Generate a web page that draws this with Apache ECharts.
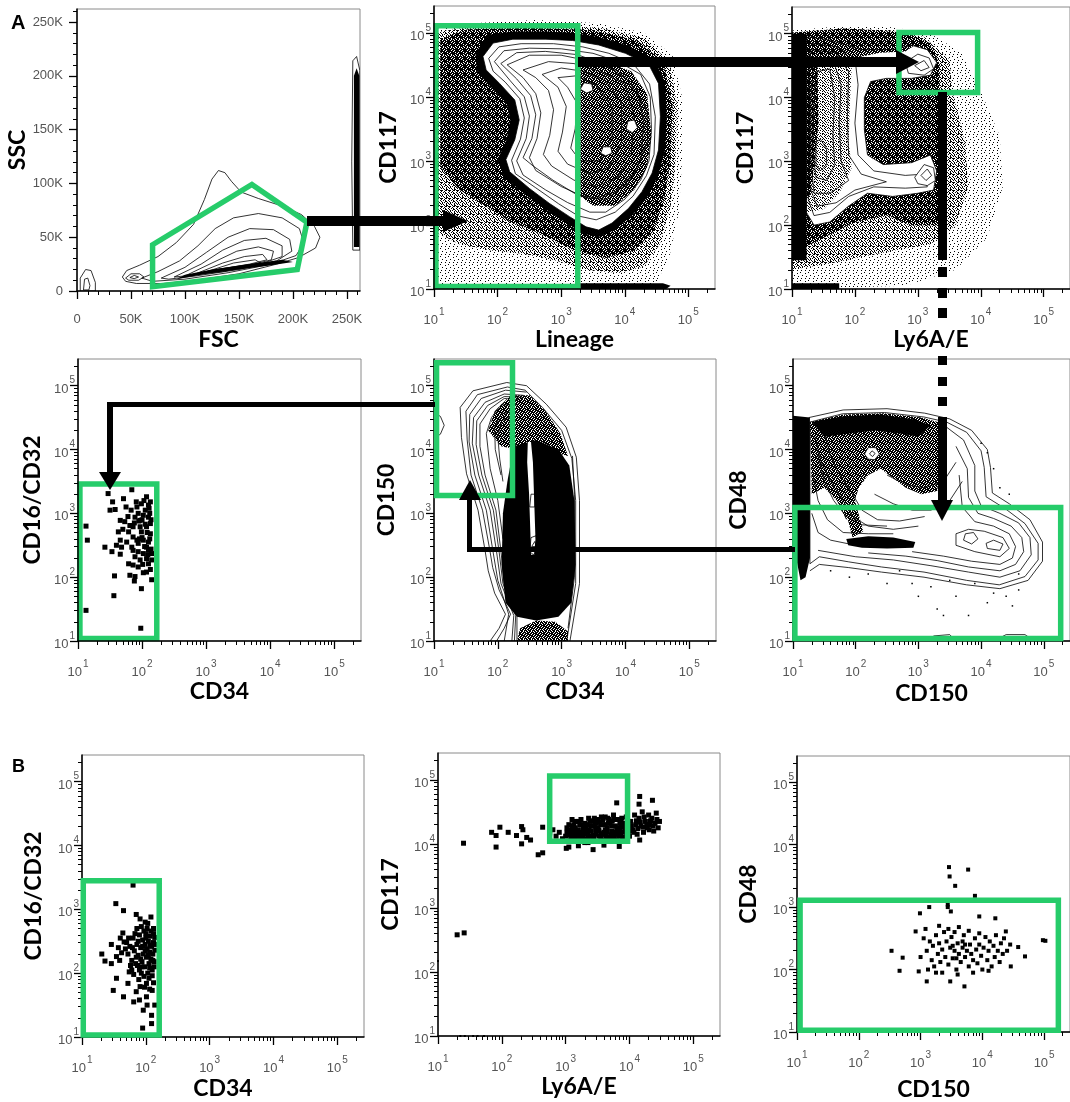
<!DOCTYPE html>
<html><head><meta charset="utf-8">
<script src="https://cdn.jsdelivr.net/npm/echarts@6/dist/echarts.min.js"></script>
<style>html,body{margin:0;padding:0;background:#fff}#c{width:1070px;height:1102px}</style>
</head><body><div id="c"></div>
<script>
// ================= DATA =================
const LIN_TICKS = [0, 50, 100, 150, 200, 250];               // FSC / SSC in thousands
const LIN_TICK_LABELS = ['0', '50K', '100K', '150K', '200K', '250K'];
const LOG_TICKS = [1, 2, 3, 4, 5];                           // exponents, labelled 10^n
const X_TITLES = ['FSC', 'Lineage', 'Ly6A/E', 'CD34', 'CD34', 'CD150', 'CD34', 'Ly6A/E', 'CD150'];
const Y_TITLES = ['SSC', 'CD117', 'CD117', 'CD16/CD32', 'CD150', 'CD48', 'CD16/CD32', 'CD117', 'CD48'];
const PANEL_LETTERS = ['A', 'B'];

// ---- Panel 1 (FSC x SSC, thousands) ----
const p1Contours = [
  [[42,13],[46,19],[58,24],[75,32],[92,45],[108,62],[118,85],[125,104],[131,112],[137,110],[143,102],[152,92],[168,86],[190,79],[208,71],[220,60],[225,50],[221,40],[205,31],[185,25],[150,16],[110,10],[80,7],[55,7],[45,9]],
  [[60,12],[75,18],[95,28],[112,42],[128,58],[145,68],[168,72],[190,68],[206,58],[210,45],[203,33],[180,25],[140,17],[100,11],[70,9]],
  [[78,12],[100,22],[120,36],[140,50],[160,58],[182,57],[197,48],[199,37],[185,28],[150,20],[110,14],[85,11]],
  [[90,13],[115,25],[135,38],[155,47],[175,49],[190,42],[190,32],[170,25],[135,18],[100,14]],
  [[100,14],[125,26],[148,37],[168,41],[182,37],[180,29],[160,24],[125,18]],
  [[110,16],[135,26],[155,32],[172,34],[176,29],[160,25],[130,20]],
  [[120,18],[145,26],[165,29],[170,26],[150,23],[130,20]],
  [[45,12],[50,16],[58,16],[62,13],[57,10],[48,10]],
  [[49,12.5],[53,14.5],[57,13],[53,11.5]],
  [[3,0],[3,12],[8,20],[13,19],[17,8],[17,0]],
  [[6,1],[7,11],[10,12],[12,5],[11,1]],
  [[255.5,38],[254.5,120],[255.5,214],[259,218],[262,205],[262,38]]
];
const p1Black = [
  [[92,11],[120,16],[150,20],[180,24],[200,27],[190,29],[160,25],[125,20],[100,15]],
  [[256.5,41],[256.5,200],[259,207],[261.5,200],[261.5,41]]
];
const p1Gate = [[70,43],[162,99],[213,64],[204,20],[70,4]];

// ---- Panel 2 (Lineage x CD117, log10 units) ----
const p2Sparse = [[[1,1.05],[1,5.05],[1.6,5.15],[2.6,5.2],[3.6,5.15],[4.3,5.0],[4.75,4.65],[4.9,4.0],[4.9,3.0],[4.85,2.2],[4.7,1.5],[4.5,1.1],[4.2,1.0],[3.0,1.0],[2.0,1.05]]];
const p2Medium = [[[1,1.9],[1,5.0],[1.6,5.1],[2.6,5.12],[3.6,5.08],[4.3,4.92],[4.7,4.55],[4.82,3.9],[4.8,3.0],[4.72,2.3],[4.55,1.7],[4.3,1.35],[3.9,1.25],[3.4,1.3],[2.9,1.45],[2.4,1.55],[1.9,1.6],[1.4,1.7]]];
const p2Dense = [[[1.1,2.9],[1.1,4.9],[1.5,5.05],[2.5,5.08],[3.5,5.04],[4.2,4.88],[4.6,4.55],[4.75,3.9],[4.72,3.0],[4.62,2.4],[4.45,1.9],[4.15,1.6],[3.7,1.48],[3.2,1.6],[2.7,1.85],[2.2,2.05],[1.8,2.3],[1.4,2.55]]];
const p2Black = [
  [[1.65,4.68],[1.85,4.97],[2.24,5.02],[2.76,5.02],[3.18,5.0],[3.6,4.93],[4.05,4.8],[4.47,4.58],[4.63,4.23],[4.66,3.69],[4.63,3.15],[4.52,2.76],[4.35,2.43],[4.12,2.15],[3.84,1.92],[3.59,1.81],[3.36,1.86],[3.08,2.03],[2.76,2.24],[2.44,2.47],[2.1,2.75],[2.0,3.02],[2.14,3.33],[2.2,3.64],[2.14,3.9],[1.91,4.14],[1.68,4.38]],
  [[3.3,1.0],[4.65,1.0],[4.72,1.05],[4.6,1.09],[3.3,1.09]]
];
const p2Outer = [[[1.77,4.63],[1.93,4.84],[2.24,4.90],[2.76,4.90],[3.18,4.88],[3.59,4.81],[4.01,4.68],[4.38,4.50],[4.53,4.21],[4.56,3.69],[4.53,3.17],[4.43,2.81],[4.27,2.52],[4.06,2.26],[3.80,2.03],[3.59,1.92],[3.39,1.97],[3.13,2.13],[2.81,2.34],[2.50,2.57],[2.19,2.83],[2.13,3.02],[2.27,3.33],[2.34,3.64],[2.27,3.95],[2.03,4.21],[1.82,4.42]]];
const p2DarkCore = [[[3.3,4.5],[3.7,4.55],[4.1,4.4],[4.35,4.05],[4.42,3.4],[4.35,2.9],[4.15,2.55],[3.85,2.3],[3.5,2.3],[3.3,2.45]]];
const p2Contours = [
  [[1.86,4.6],[2.02,4.78],[2.37,4.83],[2.88,4.83],[3.34,4.78],[3.75,4.68],[4.13,4.52],[4.39,4.2],[4.48,3.69],[4.46,3.1],[4.34,2.77],[4.13,2.45],[3.85,2.2],[3.55,2.08],[3.27,2.14],[2.96,2.33],[2.6,2.58],[2.28,2.8],[2.22,3.01],[2.36,3.34],[2.42,3.67],[2.35,3.97],[2.12,4.23],[1.93,4.4]],
  [[1.95,4.55],[2.1,4.72],[2.5,4.76],[3.0,4.75],[3.5,4.68],[3.9,4.55],[4.25,4.35],[4.4,4.0],[4.42,3.5],[4.38,3.0],[4.25,2.7],[4.0,2.4],[3.7,2.2],[3.45,2.2],[3.1,2.35],[2.75,2.55],[2.4,2.78],[2.3,3.0],[2.45,3.35],[2.5,3.7],[2.42,4.0],[2.2,4.25]],
  [[2.05,4.52],[2.3,4.69],[2.75,4.71],[3.25,4.66],[3.7,4.5],[4.05,4.26],[4.35,3.8],[4.36,3.3],[4.15,2.82],[3.85,2.52],[3.55,2.42],[3.25,2.47],[2.87,2.7],[2.56,2.92],[2.4,3.05],[2.54,3.35],[2.6,3.72],[2.52,4.02],[2.3,4.28]],
  [[2.15,4.5],[2.5,4.65],[3.0,4.65],[3.5,4.55],[3.9,4.4],[4.2,4.1],[4.3,3.6],[4.25,3.0],[4.05,2.65],[3.7,2.4],[3.4,2.42],[3.0,2.6],[2.6,2.85],[2.5,3.05],[2.62,3.35],[2.68,3.75],[2.6,4.05],[2.4,4.3]],
  [[2.4,4.42],[2.8,4.55],[3.2,4.52],[3.6,4.4],[4.0,4.2],[4.15,3.7],[4.1,3.1],[3.9,2.75],[3.55,2.6],[3.2,2.7],[2.85,2.92],[2.72,3.1],[2.82,3.4],[2.88,3.8],[2.8,4.1],[2.6,4.3]],
  [[2.7,4.35],[3.0,4.45],[3.35,4.4],[3.7,4.25],[3.95,3.9],[3.95,3.3],[3.75,2.9],[3.45,2.8],[3.1,2.95],[2.95,3.15],[3.02,3.45],[3.08,3.85],[2.95,4.15]],
  [[2.95,4.3],[3.25,4.33],[3.55,4.18],[3.8,3.85],[3.8,3.35],[3.6,3.0],[3.3,3.0],[3.15,3.2],[3.22,3.5],[3.25,3.9],[3.1,4.15]]
];
const p2Spots = [
  [[3.3,4.12],[3.36,4.22],[3.48,4.2],[3.5,4.1],[3.4,4.06]],
  [[4.02,3.5],[4.05,3.62],[4.15,3.64],[4.2,3.52],[4.12,3.44]],
  [[3.62,3.12],[3.66,3.22],[3.78,3.22],[3.8,3.12],[3.7,3.08]]
];
const p2Gate = [[1.03,1.04],[1.03,5.11],[3.26,5.11],[3.26,1.04]];

// ---- Panel 3 (Ly6A/E x CD117) ----
const p3Sparse = [[[1,1.0],[1,5.05],[1.8,5.12],[2.6,5.1],[3.2,5.0],[3.7,4.7],[4.0,4.1],[4.3,3.4],[4.35,2.6],[4.1,1.8],[3.6,1.3],[2.8,1.05]]];
const p3Medium = [[[1,1.3],[1,5.0],[1.8,5.08],[2.6,5.05],[3.1,4.95],[3.5,4.6],[3.55,4.1],[3.75,3.3],[3.8,2.6],[3.6,2.0],[3.2,1.7],[2.6,1.6],[2.1,1.5],[1.6,1.4]]];
const p3Dense = [[[1,1.6],[1,5.0],[2.0,5.07],[2.8,5.02],[3.2,4.85],[3.35,4.5],[3.35,3.9],[3.4,3.0],[3.45,2.4],[3.3,2.0],[2.9,2.0],[2.5,2.15],[2.0,2.05],[1.6,1.85],[1.3,1.7]]];
const p3Outer = [[[1.25,4.95],[1.6,4.9],[2.1,4.75],[2.6,4.75],[2.9,4.82],[3.15,4.75],[3.3,4.55],[3.2,4.35],[2.9,4.3],[2.5,4.3],[2.25,4.25],[2.15,4.0],[2.15,3.5],[2.2,3.1],[2.45,2.95],[2.9,2.98],[3.2,3.1],[3.3,2.85],[3.25,2.55],[3.0,2.5],[2.6,2.45],[2.2,2.5],[1.9,2.3],[1.6,2.05],[1.35,2.0],[1.23,2.2],[1.23,4.9]]];
const p3LeftDark = [[[1.23,2.2],[1.23,4.9],[1.5,4.88],[1.8,4.75],[1.95,4.5],[1.92,3.9],[1.9,3.3],[1.95,2.9],[1.75,2.5],[1.5,2.25]]];
const p3LeftCore = [[[1.23,2.4],[1.23,4.85],[1.4,4.82],[1.42,3.6],[1.36,3.0],[1.3,2.5]]];
const p3Top = [[[1,4.5],[1,5.02],[1.8,5.08],[2.4,5.05],[2.8,4.95],[3.0,4.85],[2.8,4.72],[2.4,4.7],[2.0,4.62],[1.6,4.55]]];
const p3Black = [
  [[1,1.45],[1,5.0],[1.23,5.0],[1.23,1.45]],
  [[1,1.0],[1.75,1.0],[1.75,1.09],[1,1.09]]
];
const p3Contours = [
  [[1.28,4.85],[1.7,4.8],[2.0,4.62],[2.05,4.2],[2.0,3.6],[2.05,3.1],[2.3,2.85],[2.8,2.78],[3.1,2.8],[3.15,2.6],[2.8,2.58],[2.3,2.6],[1.9,2.45],[1.6,2.2],[1.35,2.15],[1.26,2.4],[1.26,4.5]],
  [[1.3,4.75],[1.7,4.7],[1.9,4.4],[1.88,3.7],[1.9,3.1],[2.1,2.8],[2.5,2.68],[2.0,2.55],[1.7,2.35],[1.4,2.3],[1.28,2.6],[1.28,4.4]],
  [[1.35,4.6],[1.65,4.6],[1.78,4.2],[1.75,3.6],[1.78,3.0],[1.9,2.7],[1.6,2.5],[1.35,2.5],[1.3,3.0],[1.3,4.0]],
  [[1.38,4.4],[1.6,4.45],[1.68,4.0],[1.65,3.4],[1.68,2.95],[1.55,2.7],[1.38,2.75],[1.33,3.2],[1.35,3.9]],
  [[1.38,3.3],[1.45,3.35],[1.55,3.2],[1.55,2.95],[1.45,2.85],[1.38,2.95]]
];
const p3Loops = [
  [[2.8,4.55],[3.0,4.68],[3.18,4.62],[3.25,4.45],[3.1,4.35],[2.85,4.38]],
  [[2.95,4.5],[3.1,4.58],[3.18,4.47],[3.05,4.42]],
  [[2.95,2.75],[3.1,2.95],[3.25,2.9],[3.28,2.7],[3.15,2.62],[3.0,2.65]],
  [[3.05,2.78],[3.15,2.88],[3.22,2.78],[3.13,2.7]]
];
const p3Gate = [[2.70,4.08],[2.70,5.02],[3.95,5.02],[3.95,4.08]];

// ---- Panel 4 (CD34 x CD16/CD32) events ----
const p4Events = [[1.125,2.80],[1.146,2.58],[1.125,1.48],[1.47,3.31],[1.54,3.18],[1.50,3.05],[1.58,3.06],[1.71,3.23],[1.84,3.37],[1.75,3.10],[1.91,3.18],[1.99,3.15],[2.07,3.26],[2.10,3.13],[1.66,2.89],[1.73,2.87],[1.81,2.81],[1.89,2.94],[1.94,3.00],[2.02,2.97],[2.10,2.94],[1.63,2.71],[1.79,2.71],[1.86,2.63],[1.97,2.79],[2.07,2.79],[2.13,2.84],[1.66,2.58],[1.76,2.55],[1.84,2.47],[1.94,2.53],[2.02,2.58],[2.10,2.55],[2.13,2.68],[1.42,2.47],[1.53,2.40],[1.60,2.50],[1.66,2.36],[1.86,2.42],[1.94,2.40],[2.02,2.37],[2.10,2.42],[1.89,2.32],[1.97,2.27],[2.07,2.29],[1.79,2.21],[1.86,2.19],[1.94,2.16],[2.10,2.21],[2.15,2.27],[2.02,2.07],[2.07,2.08],[1.57,2.02],[1.81,2.03],[1.89,2.01],[1.88,1.94],[1.99,1.82],[1.56,1.71],[1.98,1.20],[2.15,1.96],[2.13,3.18],[1.97,2.89],[1.86,2.79],[2.07,2.47],[2.15,2.37],[1.99,2.71],[1.92,3.10],[1.68,2.47],[2.05,3.05],[2.12,3.0],[2.0,2.9],[2.14,2.9],[2.08,2.7],[2.0,2.62],[2.12,2.6],[2.04,2.48],[2.14,2.44],[1.96,2.6],[2.09,2.35],[2.01,2.2],[2.13,2.12],[1.92,2.58],[2.05,2.83],[1.78,2.95],[1.83,3.05],[1.70,2.75],[1.95,2.88],[2.11,3.08],[1.88,2.85],[2.03,3.20]];
const p4Gate = [[1.03,1.04],[1.03,3.46],[2.23,3.46],[2.23,1.04]];

// ---- Panel 5 (CD34 x CD150) ----
const p5Outer = [
  [[1.41,4.66],[1.61,4.92],[2.14,5.05],[2.45,5.0],[2.76,4.71],[3.07,4.35],[3.23,3.88],[3.28,3.2],[3.28,1.9],[3.13,1.0],[1.88,1.0],[2.02,1.2],[2.12,1.42],[1.95,1.75],[1.85,2.1],[1.80,2.42],[1.69,3.05],[1.51,3.62],[1.43,4.19]]
];
const p5Contours = [
  [[1.5,4.6],[1.68,4.86],[2.15,4.98],[2.43,4.93],[2.7,4.66],[3.0,4.3],[3.16,3.86],[3.22,3.2],[3.22,1.9],[3.08,1.0],[1.98,1.0],[2.1,1.2],[2.2,1.42],[2.02,1.8],[1.92,2.15],[1.87,2.45],[1.76,3.05],[1.58,3.6],[1.52,4.15],[1.5,4.6]],
  [[2.45,4.9],[2.12,4.93],[1.74,4.8],[1.56,4.55],[1.55,4.12],[1.64,3.6],[1.82,3.05],[1.92,2.43],[2.0,1.95],[2.17,1.42],[2.1,1.0]],
  [[2.4,4.85],[2.1,4.87],[1.8,4.74],[1.62,4.5],[1.6,4.1],[1.7,3.6],[1.88,3.05],[1.98,2.4],[2.05,1.9],[2.25,1.4],[2.22,1.0]],
  [[2.38,4.82],[2.1,4.83],[1.84,4.69],[1.67,4.45],[1.66,4.08],[1.75,3.6],[1.93,3.05],[2.02,2.4],[2.08,1.9],[2.28,1.4],[2.26,1.0]],
  [[2.35,4.78],[2.1,4.8],[1.88,4.64],[1.72,4.4],[1.72,4.05],[1.8,3.6],[1.97,3.05],[2.05,2.4],[2.1,1.9],[2.3,1.4],[2.3,1.0]],
  [[2.3,4.7],[2.05,4.7],[1.9,4.5],[1.82,4.25],[1.88,3.7],[2.0,3.2],[2.08,2.6]],
  [[2.25,4.6],[2.05,4.56],[1.95,4.35],[1.96,4.0],[2.05,3.6]],
  [[2.2,4.52],[2.06,4.45],[2.0,4.2],[2.03,3.85],[2.08,3.5]],
  [[3.17,3.9],[3.2,3.3],[3.2,2.0],[3.1,1.2]],
  [[1,4.58],[1.1,4.52],[1.16,4.38],[1.1,4.24],[1,4.18]]
];
const p5Hatch = [
  [[1.85,4.3],[1.95,4.6],[2.2,4.85],[2.5,4.85],[2.75,4.6],[2.98,4.25],[3.1,3.9],[2.9,3.95],[2.6,4.05],[2.3,4.0],[2.05,4.05]],
  [[2.3,1.0],[2.35,1.2],[2.6,1.32],[2.9,1.3],[3.1,1.15],[3.1,1.0]]
];
const p5Black = [[[2.25,4.05],[2.6,4.15],[2.95,4.0],[3.12,3.75],[3.2,3.2],[3.22,2.2],[3.15,1.6],[2.95,1.38],[2.6,1.32],[2.3,1.38],[2.12,1.6],[2.06,2.2],[2.08,3.0],[2.15,3.5]]];
const p5Streak = [[[2.47,4.12],[2.52,4.12],[2.55,3.8],[2.57,3.2],[2.59,2.6],[2.57,2.35],[2.52,2.35],[2.51,2.7],[2.49,3.3],[2.46,3.8]]];
const p5Loops = [
  [[2.5,2.4],[2.52,2.62],[2.6,2.65],[2.62,2.45],[2.56,2.35]],
  [[2.53,2.48],[2.58,2.56],[2.6,2.48]],
  [[2.5,3.1],[2.52,3.3],[2.58,3.3],[2.58,3.1]]
];
const p5Gate = [[1.04,3.28],[1.04,5.36],[2.23,5.36],[2.23,3.28]];

// ---- Panel 6 (CD150 x CD48) ----
const p6Outer = [[[1.27,4.43],[1.79,4.56],[2.46,4.58],[3.09,4.51],[3.45,4.43],[3.77,4.27],[4.0,3.98],[4.05,3.72],[4.08,3.26],[4.39,3.07],[4.70,2.84],[4.91,2.53],[4.91,2.27],[4.70,2.01],[4.29,1.88],[3.77,1.95],[3.09,2.08],[2.41,2.16],[1.89,2.24],[1.42,2.32],[1.27,2.21]]];
const p6Contours = [
  [[1.25,4.5],[1.8,4.62],[2.5,4.64],[3.1,4.57],[3.5,4.48],[3.85,4.3],[4.1,4.0],[4.15,3.72],[4.18,3.32],[4.45,3.15],[4.78,2.9],[4.98,2.55],[4.98,2.25],[4.75,1.95],[4.3,1.82],[3.77,1.88],[3.09,2.0],[2.41,2.08],[1.89,2.15],[1.42,2.2],[1.27,2.1]],
  [[1.4,2.42],[2.0,2.32],[2.6,2.27],[3.2,2.18],[3.8,2.08],[4.3,2.0],[4.62,2.1],[4.8,2.35],[4.78,2.62],[4.6,2.85],[4.3,3.0],[4.0,3.12],[3.9,3.35],[3.9,3.75],[3.72,4.15],[3.45,4.35]],
  [[2.2,2.38],[2.8,2.33],[3.3,2.26],[3.8,2.16],[4.3,2.1],[4.55,2.2],[4.68,2.4],[4.65,2.62],[4.48,2.8],[4.2,2.92],[3.95,3.0],[3.8,3.25],[3.78,3.7],[3.6,4.05]],
  [[2.9,2.4],[3.4,2.33],[3.85,2.25],[4.3,2.2],[4.5,2.3],[4.55,2.48],[4.45,2.68],[4.2,2.8],[3.9,2.87],[3.7,3.1],[3.65,3.6]],
  [[3.6,2.5],[3.9,2.4],[4.3,2.32],[4.45,2.45],[4.35,2.62],[4.05,2.72],[3.8,2.75],[3.6,2.68],[3.6,2.5]],
  [[3.72,2.58],[3.85,2.52],[3.95,2.6],[3.88,2.7],[3.75,2.68],[3.72,2.58]],
  [[4.1,2.45],[4.3,2.42],[4.35,2.52],[4.2,2.58],[4.08,2.53],[4.1,2.45]],
  [[1.35,4.2],[1.45,3.8],[1.6,3.5],[1.8,3.2],[1.95,2.95],[2.2,2.8],[2.6,2.75],[3.0,2.8]],
  [[1.5,4.25],[1.6,3.9],[1.75,3.6],[1.95,3.3],[2.1,3.05],[2.35,2.9],[2.7,2.88],[3.1,2.95]],
  [[1.32,3.6],[1.4,3.2],[1.55,2.9],[1.8,2.7],[2.2,2.68],[2.6,2.68]],
  [[1.3,3.0],[1.4,2.7],[1.6,2.58],[1.9,2.52]],
  [[1.4,3.9],[1.5,3.5],[1.65,3.2],[1.85,2.95],[2.1,2.82],[2.5,2.8]],
  [[2.5,3.6],[2.8,3.45],[3.1,3.4],[3.4,3.5],[3.6,3.8]],
  [[2.3,3.3],[2.6,3.15],[2.9,3.05],[3.2,3.05],[3.5,3.2],[3.7,3.5]],
  [[3.1,1.0],[3.25,1.08],[3.5,1.1],[3.6,1.0]],
  [[4.2,1.0],[4.4,1.1],[4.7,1.1],[4.85,1.0]]
];
const p6Hatch = [
  [[1.27,4.43],[1.8,4.55],[2.45,4.57],[3.05,4.5],[3.42,4.4],[3.4,4.1],[3.35,3.7],[3.3,3.35],[3.05,3.3],[2.8,3.4],[2.6,3.55],[2.4,3.7],[2.2,3.6],[2.05,3.4],[1.95,3.1],[1.85,2.9],[1.7,3.2],[1.5,3.4],[1.3,3.3]],
  [[1.7,3.55],[1.88,3.6],[2.12,2.72],[1.95,2.62]]
];
const p6Black = [
  [[1,4.53],[1.27,4.5],[1.27,2.3],[1.2,2.0],[1.12,1.95],[1.05,2.3],[1,2.5]],
  [[1.3,4.43],[1.8,4.52],[2.4,4.55],[2.9,4.48],[3.2,4.38],[3.0,4.2],[2.7,4.25],[2.3,4.3],[1.9,4.25],[1.5,4.2]],
  [[1.85,2.6],[2.2,2.64],[2.6,2.62],[2.95,2.55],[2.92,2.46],[2.5,2.45],[2.1,2.46],[1.88,2.5]]
];
const p6Eye = [
  [[2.14,3.93],[2.2,4.03],[2.32,4.03],[2.38,3.93],[2.3,3.84],[2.2,3.85]],
  [[2.22,3.93],[2.26,3.98],[2.31,3.94],[2.27,3.89]]
];
const p6Dots = [[2.7,2.1],[3.0,1.7],[3.3,1.5],[3.6,1.7],[3.9,1.9],[4.1,1.6],[4.4,1.7],[4.6,1.8],[2.2,2.05],[1.6,2.1],[3.4,1.4],[3.8,1.4],[2.9,1.9],[3.2,1.85],[4.2,1.75],[4.5,1.55],[2.5,1.9],[3.5,1.95],[4.0,4.1],[4.2,3.7],[4.3,3.4],[4.1,3.95],[4.45,3.3],[4.6,2.05],[1.9,2.0]];
const p6Gate = [[1.03,1.04],[1.03,3.09],[5.27,3.09],[5.27,1.04]];

// ---- Panel 7 (B: CD34 x CD16/CD32) events ----
const p7Events = [[1.80,3.38],[1.53,3.09],[1.65,2.98],[1.85,2.92],[1.99,2.80],[1.93,2.73],[1.64,2.63],[1.46,2.45],[1.31,2.30],[1.36,2.19],[1.46,2.15],[1.54,2.26],[1.59,2.20],[1.66,2.49],[1.54,1.92],[1.49,1.73],[1.65,1.63],[1.81,1.55],[1.96,1.42],[2.01,1.63],[2.09,1.34],[2.09,1.21],[1.95,1.14],[1.85,1.71],[1.91,1.79],[2.01,1.84],[1.72,1.84],[1.78,2.05],[2.10,1.73],[1.72,2.30],[1.75,2.42],[1.78,2.20],[1.80,2.55],[1.82,2.35],[1.84,2.15],[1.86,2.45],[1.88,2.28],[1.90,2.60],[1.90,2.05],[1.92,2.40],[1.94,2.18],[1.95,2.52],[1.96,2.30],[1.98,2.10],[1.99,2.45],[2.00,2.62],[2.01,2.25],[2.02,2.38],[2.03,2.00],[2.04,2.50],[2.05,2.15],[2.06,2.33],[2.07,2.58],[2.08,2.22],[2.09,2.42],[2.10,2.05],[2.11,2.30],[2.12,2.48],[2.13,2.18],[2.14,2.36],[2.14,2.56],[1.76,2.12],[1.70,2.48],[1.68,2.38],[1.83,2.62],[1.87,2.12],[1.93,2.00],[1.97,2.66],[2.02,2.70],[2.08,2.66],[2.12,2.62],[2.13,2.10],[2.10,1.96],[2.05,1.92],[1.97,1.95],[1.89,1.90],[1.81,1.98],[1.74,2.02],[1.62,2.32],[1.60,2.55],[1.57,2.40],[1.85,2.25],[1.92,2.22],[1.99,2.35],[2.04,2.28],[2.07,2.44],[1.95,2.42],[1.88,2.50],[2.00,2.55],[2.11,2.20],[2.06,2.08],[1.94,2.10],[1.79,2.40],[1.73,2.55],[2.14,2.45],[2.12,2.70],[2.03,2.78],[1.91,2.85],[1.86,2.70],[2.08,2.88],[1.98,1.78],[2.12,1.85],[2.06,1.75],[1.90,1.58],[2.14,1.50],[2.02,1.50]];
const p7Gate = [[1.02,1.03],[1.02,3.45],[2.21,3.45],[2.21,1.03]];

// ---- Panel 8 (Ly6A/E x CD117) events ----
const p8Events = [[1.40,4.01],[1.30,2.58],[1.41,2.61],[1.84,4.18],[1.91,4.13],[1.97,4.26],[2.10,4.18],[1.91,3.95],[2.23,4.13],[2.31,4.27],[2.33,4.22],[2.39,4.10],[2.31,4.00],[2.45,4.06],[2.57,3.83],[2.64,3.86],[2.64,4.26],[2.75,4.17],[2.80,4.22],[2.85,4.12],[2.90,4.18],[2.95,4.08],[3.0,4.12],[3.05,4.2],[3.08,4.08],[3.1,4.28],[3.12,4.15],[3.15,4.35],[3.18,4.05],[3.2,4.22],[3.22,4.12],[3.25,4.3],[3.28,4.18],[3.3,4.02],[3.32,4.25],[3.35,4.1],[3.38,4.35],[3.4,4.2],[3.42,4.05],[3.45,4.28],[3.48,4.15],[3.5,4.38],[3.52,4.22],[3.55,4.08],[3.58,4.3],[3.6,4.18],[3.62,4.42],[3.65,4.25],[3.68,4.1],[3.7,4.33],[3.72,4.2],[3.75,4.45],[3.78,4.28],[3.8,4.15],[3.82,4.38],[3.85,4.22],[3.88,4.05],[3.9,4.32],[3.92,4.18],[3.95,4.42],[3.98,4.25],[4.0,4.12],[4.02,4.35],[4.05,4.22],[4.08,4.45],[4.1,4.3],[4.12,4.15],[4.15,4.4],[4.18,4.28],[4.2,4.5],[4.22,4.18],[4.25,4.35],[4.28,4.25],[4.3,4.45],[4.32,4.3],[4.35,4.4],[4.38,4.2],[4.4,4.32],[4.42,4.48],[4.45,4.25],[4.47,4.35],[3.15,4.25],[3.3,4.32],[3.45,4.4],[3.55,4.3],[3.68,4.38],[3.25,4.08],[3.4,4.28],[3.6,4.05],[3.75,4.12],[3.9,4.1],[3.35,4.18],[3.5,4.25],[3.65,4.18],[3.8,4.25],[3.95,4.3],[3.2,4.35],[3.1,4.1],[3.05,4.3],[3.80,4.64],[4.16,4.74],[4.36,4.68],[4.15,4.62],[3.01,3.93],[3.43,3.91],[3.84,3.96],[4.16,4.06],[3.6,3.98],[3.2,3.97],[3.05,3.95],[3.12,4.22],[3.28,4.25],[3.38,4.12],[3.52,4.12],[3.62,4.3],[3.72,4.28],[3.85,4.32],[3.98,4.18],[3.02,4.25],[3.48,4.32],[3.58,4.38],[3.7,4.06],[3.88,4.4],[3.22,4.3],[3.35,4.02],[3.8,4.05],[3.02,4.18],[3.07,4.14],[3.13,4.3],[3.17,4.12],[3.23,4.18],[3.27,4.14],[3.33,4.3],[3.37,4.22],[3.43,4.14],[3.47,4.22],[3.53,4.34],[3.57,4.16],[3.63,4.12],[3.67,4.32],[3.73,4.36],[3.77,4.18],[3.83,4.12],[3.87,4.28],[3.93,4.22],[3.97,4.36],[4.03,4.28],[4.07,4.18],[4.13,4.24],[4.17,4.34],[4.23,4.42],[4.27,4.3],[4.33,4.36],[4.37,4.28],[4.43,4.38],[3.1,4.38],[3.24,4.38],[3.36,4.4],[3.46,4.34],[3.56,4.42],[3.66,4.4],[3.76,4.38],[3.86,4.34],[3.96,4.16],[3.14,4.06],[3.28,4.08],[3.44,4.1],[3.56,4.14],[3.66,4.06],[3.76,4.08],[3.86,4.15],[3.06,4.22],[3.18,4.18],[3.31,4.16],[3.41,4.36],[3.52,4.2],[3.62,4.22],[3.71,4.14],[3.81,4.2],[3.91,4.26],[4.01,4.2],[4.11,4.36],[4.21,4.26],[4.31,4.22]];
const p8Specks = [[1.35,1.0],[1.42,1.0],[1.55,1.0],[1.62,1.0],[1.72,1.0],[1.0,2.17]];
const p8Gate = [[2.75,4.04],[2.75,5.06],[3.97,5.06],[3.97,4.04]];

// ---- Panel 9 (CD150 x CD48) events ----
const p9Events = [[3.46,3.64],[3.47,3.49],[3.77,3.60],[3.56,3.34],[3.88,3.18],[3.44,3.04],[3.44,3.00],[3.14,3.00],[2.99,2.90],[3.49,2.93],[3.95,2.85],[4.21,2.82],[2.53,2.30],[2.71,2.19],[2.66,1.98],[2.97,1.97],[3.10,1.81],[3.48,1.81],[3.71,1.73],[4.98,2.47],[5.02,2.46],[4.69,2.21],[4.58,2.36],[4.46,2.05],[4.38,2.61],[2.92,2.61],[3.08,2.65],[3.1,2.3],[3.15,2.45],[3.18,2.15],[3.2,2.38],[3.22,2.05],[3.25,2.55],[3.28,2.25],[3.3,2.42],[3.32,2.12],[3.35,2.32],[3.38,2.6],[3.4,2.2],[3.42,2.45],[3.45,2.08],[3.48,2.35],[3.5,2.52],[3.52,2.18],[3.55,2.3],[3.58,2.0],[3.6,2.42],[3.62,2.25],[3.65,2.12],[3.68,2.35],[3.7,2.55],[3.72,2.2],[3.75,2.3],[3.78,2.05],[3.8,2.4],[3.82,2.25],[3.85,2.15],[3.88,2.5],[3.9,2.32],[3.92,2.1],[3.95,2.4],[3.98,2.22],[4.0,2.0],[4.02,2.35],[4.05,2.52],[4.08,2.15],[4.1,2.3],[4.12,2.45],[4.15,2.05],[4.18,2.38],[4.2,2.2],[4.22,2.55],[4.25,2.3],[4.28,2.12],[4.3,2.42],[4.33,2.25],[4.35,2.5],[4.4,2.3],[4.45,2.4],[3.05,2.5],[3.0,2.2],[3.12,2.0],[3.35,1.95],[3.55,2.6],[3.62,2.68],[3.78,2.62],[3.95,2.58],[3.45,2.65],[3.3,2.7],[3.25,1.95],[3.6,1.92],[3.85,1.95],[4.1,1.98],[3.68,2.45],[3.52,2.38],[3.72,2.4],[3.58,2.18]];
const p9Gate = [[1.05,1.03],[1.05,3.11],[5.23,3.11],[5.23,1.03]];

// ================= LAYOUT / STYLE =================
const LAYOUT = [
  {left:77, top:9, w:283, h:282, xg:37, yg:39},
  {left:434, top:6, w:281, h:283, xg:38, yg:34},
  {left:792, top:7, w:282, h:282, xg:38, yg:35},
  {left:78, top:359, w:283, h:282, xg:38, yg:34},
  {left:434, top:359, w:282, h:282, xg:38, yg:36},
  {left:793, top:359, w:282, h:282, xg:41, yg:43},
  {left:82, top:755, w:282, h:282, xg:40, yg:37},
  {left:438, top:753, w:282, h:283, xg:36, yg:36},
  {left:797, top:756, w:282, h:281, xg:46, yg:37}
];
const GREEN = '#26cc6a';
const LABEL_FONT = 'Liberation Sans';
const TITLE_FONT = 'Lato';
const LOG_MAX = Math.log10(262144);
const LIN_MAX = 262.144;
const LOG_MINOR = [];
for (let n = 1; n <= 5; n++) for (let k = 2; k <= 9; k++) { const v = n + Math.log10(k); if (v < LOG_MAX) LOG_MINOR.push(v); }
const LIN_MINOR = [];
for (let v = 10; v < LIN_MAX; v += 10) if (v % 50 !== 0) LIN_MINOR.push(v);

function makePattern(rows) {
  const c = document.createElement('canvas');
  c.width = rows[0].length; c.height = rows.length;
  const g = c.getContext('2d'); g.fillStyle = '#000';
  rows.forEach((r, y) => { for (let x = 0; x < r.length; x++) if (r[x] === 'x') g.fillRect(x, y, 1, 1); });
  return { image: c, repeat: 'repeat' };
}
const PAT_SPARSE = makePattern(['x.......','.....x..','........','..x.....','......x.','........','.x...x..','........']);
const PAT_MED = makePattern(['x..x.x..','.x....x.','..x.x..x','x.....x.','.x.x....','....x.xx','x.x...x.','.x..x...']);
const PAT_DENSE = makePattern(['xx.xxx.x','x.xx.xxx','xxx.xx.x','.xxxx.xx','xx.xxxx.','x.xx.x.x','xxx.xxx.','.xx.x.xx']);

const NAME_STYLE = {fontFamily: TITLE_FONT, fontWeight: 'bold', fontSize: 23, color: '#000'};
const RICH = {
  b: {fontFamily: LABEL_FONT, fontSize: 13, color: '#555', lineHeight: 20, verticalAlign: 'bottom'},
  s: {fontFamily: LABEL_FONT, fontSize: 10, color: '#555', lineHeight: 11, verticalAlign: 'top', padding: [0, 0, 0, 1]}
};

const grid = [], xAxis = [], yAxis = [], series = [];
let zc = 2;

LAYOUT.forEach((L, i) => {
  grid.push({left: L.left, top: L.top, width: L.w, height: L.h, show: true, borderColor: '#8a8a8a', borderWidth: 1});
  const lin = i === 0;
  const mn = lin ? 0 : 1, mx = lin ? LIN_MAX : LOG_MAX;
  const major = lin ? LIN_TICKS : LOG_TICKS;
  const minor = lin ? LIN_MINOR : LOG_MINOR;
  const label = (isX) => lin ? {
      customValues: LIN_TICKS, margin: isX ? 22 : 14, color: '#555', fontFamily: LABEL_FONT, fontSize: 13,
      formatter: v => LIN_TICK_LABELS[LIN_TICKS.indexOf(Math.round(v))]
    } : {
      customValues: LOG_TICKS, margin: isX ? 18 : 3, rich: RICH,
      formatter: v => '{b|10}{s|' + Math.round(v) + '}'
    };
  const base = (isX) => ({
    type: 'value', gridIndex: i, min: mn, max: mx, z: 30,
    position: isX ? 'bottom' : 'left', splitLine: {show: false}
  });
  xAxis.push(Object.assign(base(true), {
    axisLine: {show: true, onZero: false, lineStyle: {color: '#000', width: 1.5}},
    axisTick: {show: true, customValues: major, length: 8, lineStyle: {color: '#000', width: 1.3}},
    axisLabel: label(true),
    name: X_TITLES[i], nameLocation: 'middle', nameGap: L.xg, nameTextStyle: NAME_STYLE
  }));
  xAxis.push(Object.assign(base(true), {
    axisLine: {show: false, onZero: false},
    axisTick: {show: true, customValues: minor, length: 4, lineStyle: {color: '#000', width: 1}},
    axisLabel: {show: false}
  }));
  yAxis.push(Object.assign(base(false), {
    axisLine: {show: true, onZero: false, lineStyle: {color: '#000', width: 1.5}},
    axisTick: {show: true, customValues: major, length: 8, lineStyle: {color: '#000', width: 1.3}},
    axisLabel: label(false),
    name: Y_TITLES[i], nameLocation: 'middle', nameGap: L.yg, nameTextStyle: NAME_STYLE
  }));
  yAxis.push(Object.assign(base(false), {
    axisLine: {show: false, onZero: false},
    axisTick: {show: true, customValues: minor, length: 4, lineStyle: {color: '#000', width: 1}},
    axisLabel: {show: false}
  }));
});

function shapes(p, list, style, opts) {
  opts = opts || {};
  series.push({
    type: 'custom', xAxisIndex: p * 2, yAxisIndex: p * 2, silent: true, z: zc++,
    clip: opts.clip !== false,
    data: list.map((s, i) => [i]),
    renderItem: (params, api) => {
      const pts = list[params.dataIndex].map(pt => api.coord(pt));
      return {type: opts.open ? 'polyline' : 'polygon', shape: {points: pts}, style: Object.assign({}, style)};
    }
  });
}
function events(p, data, size) {
  series.push({type: 'scatter', xAxisIndex: p * 2, yAxisIndex: p * 2, symbol: 'rect', symbolSize: size,
    itemStyle: {color: '#000', opacity: 1, borderWidth: 0}, data: data, silent: true, z: zc++, clip: true});
}
const LINE = {fill: 'none', stroke: '#000', lineWidth: 0.8};
const WHITE = {fill: '#fff', stroke: '#000', lineWidth: 0.8};
const SOLID = {fill: '#000', stroke: 'none'};
const GATE = {fill: 'none', stroke: GREEN, lineWidth: 5.5, lineJoin: 'miter'};

// Panel 1
shapes(0, p1Contours, LINE);
shapes(0, p1Black, SOLID);
shapes(0, [p1Gate], GATE, {clip: false});
// Panel 2
shapes(1, p2Sparse, {fill: PAT_SPARSE});
shapes(1, p2Medium, {fill: PAT_MED});
shapes(1, p2Dense, {fill: PAT_DENSE});
shapes(1, p2Black, SOLID);
shapes(1, p2Outer, WHITE);
shapes(1, p2DarkCore, {fill: PAT_DENSE});
shapes(1, p2Contours, LINE);
shapes(1, p2Spots, WHITE);
shapes(1, [p2Gate], GATE, {clip: false});
// Panel 3
shapes(2, p3Sparse, {fill: PAT_SPARSE});
shapes(2, p3Medium, {fill: PAT_MED});
shapes(2, p3Dense, {fill: PAT_DENSE});
shapes(2, p3Outer, WHITE);
shapes(2, p3LeftDark, {fill: PAT_MED});
shapes(2, p3LeftCore, {fill: PAT_DENSE});
shapes(2, p3Top, {fill: PAT_DENSE});
shapes(2, p3Contours, LINE);
shapes(2, p3Black, SOLID);
shapes(2, p3Loops, WHITE);
shapes(2, [p3Gate], GATE, {clip: false});
// Panel 4
events(3, p4Events, 5);
shapes(3, [p4Gate], GATE, {clip: false});
// Panel 5
shapes(4, p5Outer, WHITE);
shapes(4, p5Contours, LINE, {open: true});
shapes(4, p5Hatch, {fill: PAT_DENSE});
shapes(4, p5Black, SOLID);
shapes(4, p5Streak, {fill: '#fff'});
shapes(4, p5Loops, LINE);
shapes(4, [p5Gate], GATE, {clip: false});
// Panel 6
shapes(5, p6Outer, WHITE);
shapes(5, p6Contours, LINE, {open: true});
shapes(5, p6Hatch, {fill: PAT_DENSE});
shapes(5, p6Black, SOLID);
shapes(5, p6Eye, WHITE);
events(5, p6Dots, 1.5);
shapes(5, [p6Gate], GATE, {clip: false});
// Panel 7
events(6, p7Events, 5);
shapes(6, [p7Gate], GATE, {clip: false});
// Panel 8
events(7, p8Events, 5);
events(7, p8Specks, 2);
shapes(7, [p8Gate], GATE, {clip: false});
// Panel 9
events(8, p9Events, 4);
shapes(8, [p9Gate], GATE, {clip: false});

// gating arrows (annotations)
const K = '#000';
const graphic = [
  {type: 'rect', shape: {x: 307, y: 216, width: 138, height: 10}, style: {fill: K}, z: 100},
  {type: 'polygon', shape: {points: [[443, 210], [468, 221], [443, 232]]}, style: {fill: K}, z: 100},
  {type: 'rect', shape: {x: 578, y: 57, width: 320, height: 10}, style: {fill: K}, z: 100},
  {type: 'polygon', shape: {points: [[896, 50], [919, 62], [896, 74]]}, style: {fill: K}, z: 100},
  {type: 'rect', shape: {x: 938, y: 92, width: 9, height: 168}, style: {fill: K}, z: 100},
  {type: 'rect', shape: {x: 938, y: 267, width: 9, height: 10}, style: {fill: K}, z: 100},
  {type: 'rect', shape: {x: 938, y: 288, width: 9, height: 10}, style: {fill: K}, z: 100},
  {type: 'rect', shape: {x: 938, y: 308, width: 9, height: 10}, style: {fill: K}, z: 100},
  {type: 'rect', shape: {x: 938, y: 356, width: 9, height: 9}, style: {fill: K}, z: 100},
  {type: 'rect', shape: {x: 938, y: 377, width: 9, height: 9}, style: {fill: K}, z: 100},
  {type: 'rect', shape: {x: 938, y: 397, width: 9, height: 9}, style: {fill: K}, z: 100},
  {type: 'rect', shape: {x: 938, y: 417, width: 9, height: 85}, style: {fill: K}, z: 100},
  {type: 'polygon', shape: {points: [[931, 500], [953, 500], [942, 521]]}, style: {fill: K}, z: 100},
  {type: 'rect', shape: {x: 467, y: 547, width: 328, height: 5}, style: {fill: K}, z: 100},
  {type: 'rect', shape: {x: 467, y: 498, width: 5, height: 54}, style: {fill: K}, z: 100},
  {type: 'polygon', shape: {points: [[459, 500], [481, 500], [470, 480]]}, style: {fill: K}, z: 100},
  {type: 'rect', shape: {x: 107, y: 402, width: 328, height: 5}, style: {fill: K}, z: 100},
  {type: 'rect', shape: {x: 107, y: 402, width: 6, height: 72}, style: {fill: K}, z: 100},
  {type: 'polygon', shape: {points: [[99, 472], [121, 472], [110, 490]]}, style: {fill: K}, z: 100},
  {type: 'text', left: 11, top: 13, style: {text: PANEL_LETTERS[0], font: 'bold 20px "Liberation Sans"', fill: '#000'}, z: 100},
  {type: 'text', left: 12, top: 758, style: {text: PANEL_LETTERS[1], font: 'bold 18px "Liberation Sans"', fill: '#000'}, z: 100}
];

const chart = echarts.init(document.getElementById('c'), null, {renderer: 'canvas'});
chart.setOption({backgroundColor: '#fff', animation: false, grid, xAxis, yAxis, series, graphic});
</script>
</body></html>
